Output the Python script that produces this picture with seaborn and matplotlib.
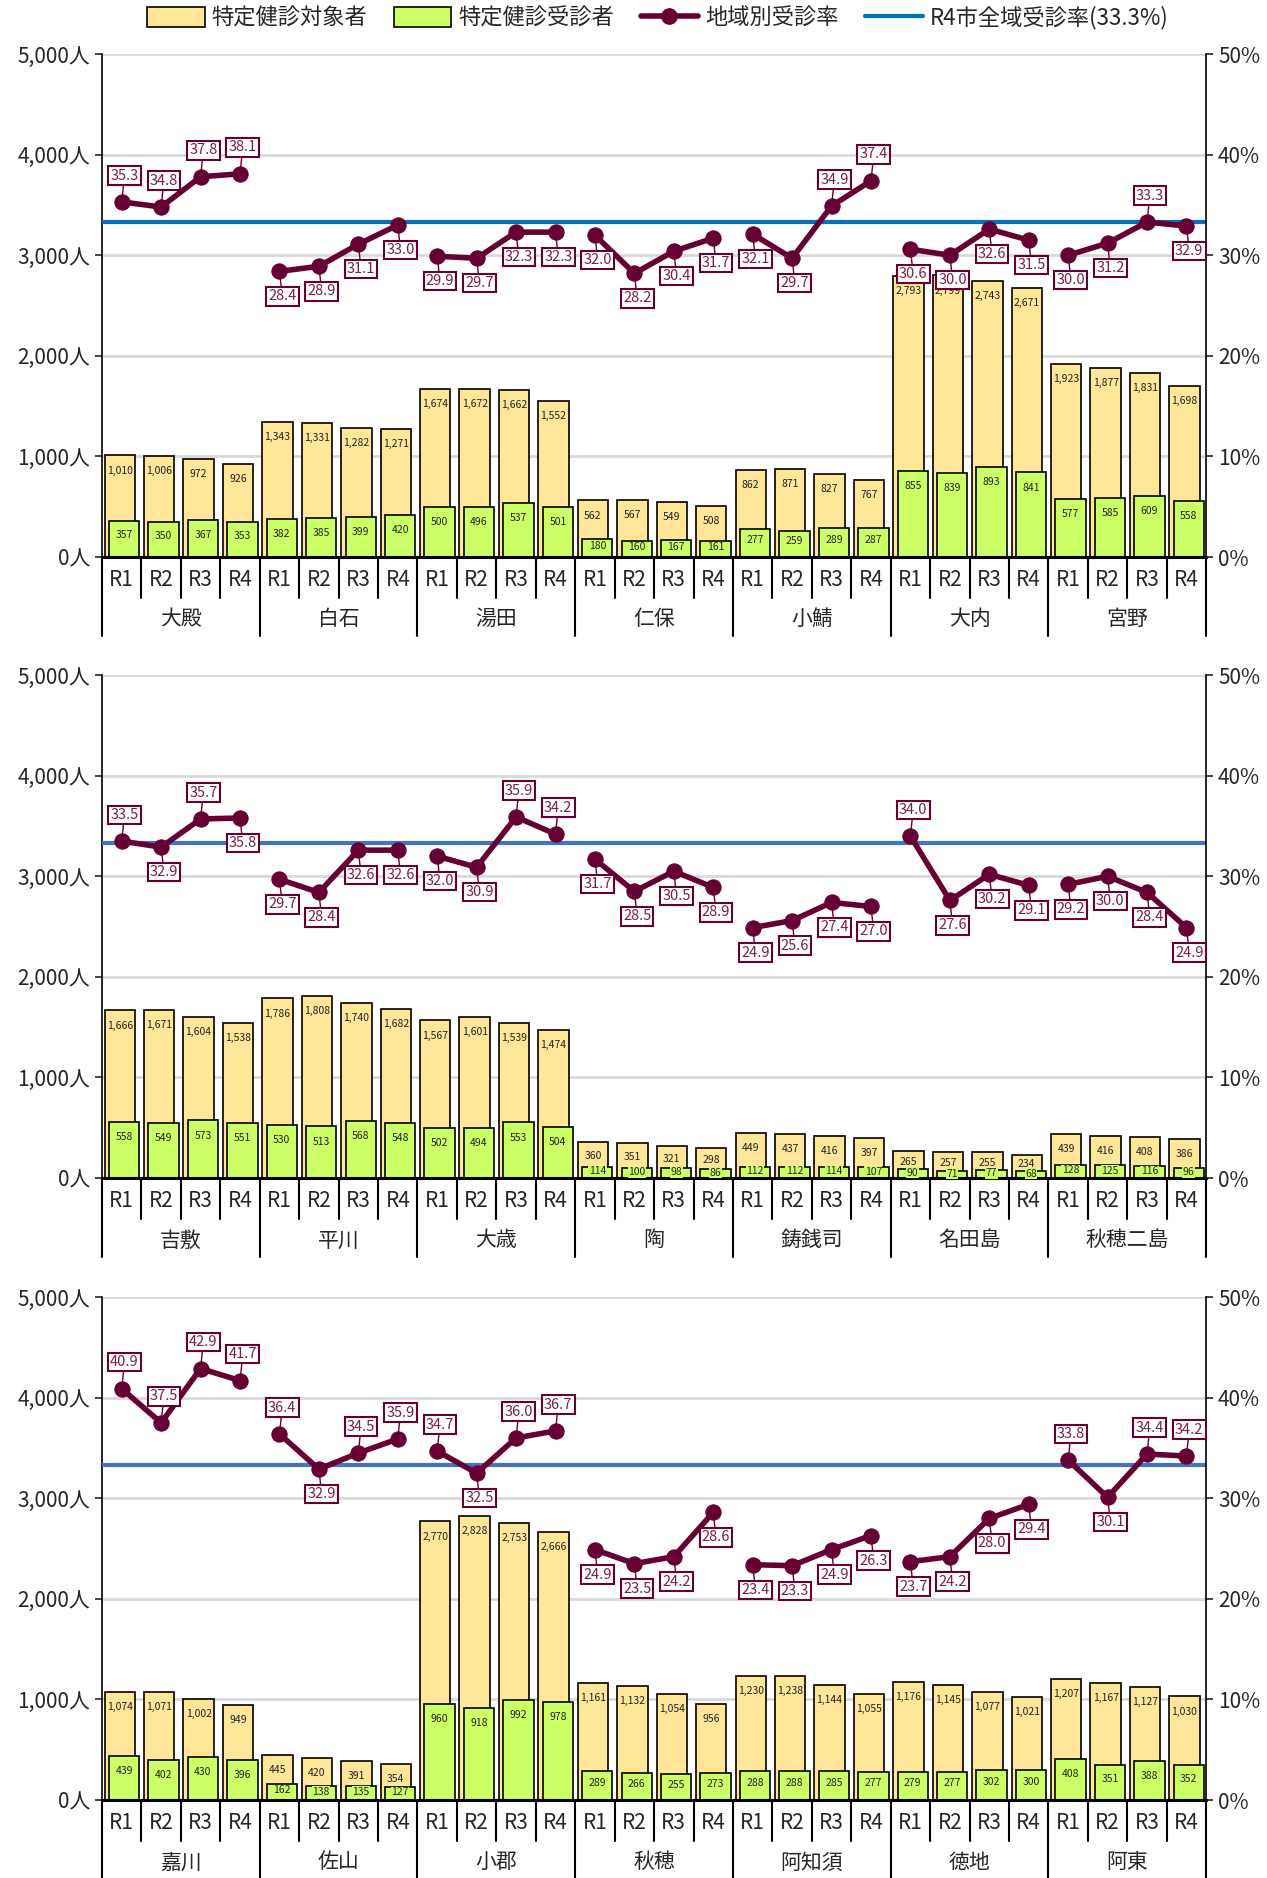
import numpy as np
import pandas as pd
import seaborn as sns
import matplotlib.pyplot as plt
from matplotlib.patches import Patch
from matplotlib.lines import Line2D
from matplotlib.ticker import FuncFormatter

# ---- data ----
years = ['R1', 'R2', 'R3', 'R4']

regions1 = ['大殿', '白石', '湯田', '仁保', '小鯖', '大内', '宮野']
target1 = [1010, 1006, 972, 926, 1343, 1331, 1282, 1271, 1674, 1672, 1662, 1552,
           562, 567, 549, 508, 862, 871, 827, 767, 2793, 2799, 2743, 2671,
           1923, 1877, 1831, 1698]
exam1 = [357, 350, 367, 353, 382, 385, 399, 420, 500, 496, 537, 501,
         180, 160, 167, 161, 277, 259, 289, 287, 855, 839, 893, 841,
         577, 585, 609, 558]
rate1 = [35.3, 34.8, 37.8, 38.1, 28.4, 28.9, 31.1, 33.0, 29.9, 29.7, 32.3, 32.3,
         32.0, 28.2, 30.4, 31.7, 32.1, 29.7, 34.9, 37.4, 30.6, 30.0, 32.6, 31.5,
         30.0, 31.2, 33.3, 32.9]

regions2 = ['吉敷', '平川', '大歳', '陶', '鋳銭司', '名田島', '秋穂二島']
target2 = [1666, 1671, 1604, 1538, 1786, 1808, 1740, 1682, 1567, 1601, 1539, 1474,
           360, 351, 321, 298, 449, 437, 416, 397, 265, 257, 255, 234,
           439, 416, 408, 386]
exam2 = [558, 549, 573, 551, 530, 513, 568, 548, 502, 494, 553, 504,
         114, 100, 98, 86, 112, 112, 114, 107, 90, 71, 77, 68,
         128, 125, 116, 96]
rate2 = [33.5, 32.9, 35.7, 35.8, 29.7, 28.4, 32.6, 32.6, 32.0, 30.9, 35.9, 34.2,
         31.7, 28.5, 30.5, 28.9, 24.9, 25.6, 27.4, 27.0, 34.0, 27.6, 30.2, 29.1,
         29.2, 30.0, 28.4, 24.9]

regions3 = ['嘉川', '佐山', '小郡', '秋穂', '阿知須', '徳地', '阿東']
target3 = [1074, 1071, 1002, 949, 445, 420, 391, 354, 2770, 2828, 2753, 2666,
           1161, 1132, 1054, 956, 1230, 1238, 1144, 1055, 1176, 1145, 1077, 1021,
           1207, 1167, 1127, 1030]
exam3 = [439, 402, 430, 396, 162, 138, 135, 127, 960, 918, 992, 978,
         289, 266, 255, 273, 288, 288, 285, 277, 279, 277, 302, 300,
         408, 351, 388, 352]
rate3 = [40.9, 37.5, 42.9, 41.7, 36.4, 32.9, 34.5, 35.9, 34.7, 32.5, 36.0, 36.7,
         24.9, 23.5, 24.2, 28.6, 23.4, 23.3, 24.9, 26.3, 23.7, 24.2, 28.0, 29.4,
         33.8, 30.1, 34.4, 34.2]

city_rate = 33.3

# label placement (u = above point, d = below)
place1 = 'uuuu' 'dddd' 'dddd' 'dddd' 'dduu' 'dddd' 'ddud'
place2 = 'udud' 'dddd' 'dduu' 'dddd' 'dddd' 'uddd' 'dddd'
place3 = 'uuuu' 'uduu' 'uduu' 'dddd' 'dddd' 'dddd' 'uduu'

YELLOW = '#FFE699'
GREEN = '#CCFF66'
MAROON = '#660033'
LABEL_TXT = '#7B1E4A'

sns.set_style('white')
plt.rcParams['font.family'] = ['Noto Sans CJK JP', 'DejaVu Sans']

fig = plt.figure(figsize=(12.67, 18.78), dpi=100)

panels = [
    (regions1, target1, exam1, rate1, place1, '#0070C0', 0.7034),
    (regions2, target2, exam2, rate2, place2, '#4472C4', 0.3727),
    (regions3, target3, exam3, rate3, place3, '#4472C4', 0.0415),
]
AX_H = 0.2678
AX_L, AX_W = 0.0805, 0.8715

for regions, target, exam, rate, place, blue, bottom in panels:
    n = len(target)
    df = pd.DataFrame({
        'pos': np.arange(n),
        'region': np.repeat(regions, 4),
        'year': years * len(regions),
        'target': target,
        'exam': exam,
        'rate': rate,
    })

    ax = fig.add_axes([AX_L, bottom, AX_W, AX_H])
    sns.barplot(x=df['pos'] - 0.05, y=df['target'], native_scale=True, width=0.77,
                color=YELLOW, saturation=1, edgecolor='black', linewidth=1.2, ax=ax)
    sns.barplot(x=df['pos'] + 0.06, y=df['exam'], native_scale=True, width=0.77,
                color=GREEN, saturation=1, edgecolor='black', linewidth=1.2, ax=ax)

    for i, (t, e) in enumerate(zip(target, exam)):
        yt = max(t - 150, t * 0.6)
        ax.text(i - 0.05, yt, f'{t:,}', ha='center', va='center', fontsize=7.5,
                color='#222222', bbox=dict(boxstyle='square,pad=0.05', fc=YELLOW, ec='none'))
        ye = max(e - 150, e * 0.6)
        ax.text(i + 0.06, ye, f'{e:,}', ha='center', va='center', fontsize=7.5,
                color='#222222', bbox=dict(boxstyle='square,pad=0.05', fc=GREEN, ec='none'))

    ax.set_xlim(-0.5, n - 0.5)
    ax.set_ylim(0, 5000)
    ax.set_yticks(range(0, 5001, 1000))
    ax.yaxis.set_major_formatter(FuncFormatter(lambda v, p: f'{int(v):,}人'))
    ax.grid(axis='y', color='#D9D9D9', lw=2)
    ax.grid(axis='x', visible=False)
    ax.set_axisbelow(True)
    ax.set_xlabel('')
    ax.set_ylabel('')
    ax.tick_params(axis='y', direction='out', length=5, width=1.2, labelsize=15, left=True)
    ax.tick_params(axis='x', bottom=False, labelbottom=False)
    for s in ['top', 'right']:
        ax.spines[s].set_visible(False)
    ax.spines['left'].set_color('black')
    ax.spines['left'].set_linewidth(1.2)
    ax.spines['bottom'].set_color('black')
    ax.spines['bottom'].set_linewidth(2.2)

    # two-level category axis
    tr = ax.get_xaxis_transform()
    for b in range(n + 1):
        depth = -0.157 if b % 4 == 0 else -0.082
        ax.plot([b - 0.5, b - 0.5], [0, depth], color='black', lw=1.5,
                transform=tr, clip_on=False)
    for i in range(n):
        ax.text(i, -0.046, years[i % 4], transform=tr, ha='center', va='center', fontsize=15)
    for k, r in enumerate(regions):
        ax.text(4 * k + 1.5, -0.124, r, transform=tr, ha='center', va='center', fontsize=15)

    # rate axis
    ax2 = ax.twinx()
    ax2.axhline(city_rate, color=blue, lw=3, zorder=1)
    sns.lineplot(data=df, x='pos', y='rate', units='region', estimator=None,
                 color=MAROON, lw=4, marker='o', markersize=11, markeredgecolor=MAROON,
                 legend=False, ax=ax2, zorder=3)
    for i, (v, p) in enumerate(zip(rate, place)):
        dy = 19 if p == 'u' else -18
        ax2.annotate(f'{v:.1f}', xy=(i, v), xytext=(2, dy), textcoords='offset points',
                     ha='center', va='center', fontsize=10.5, color=LABEL_TXT, zorder=5,
                     bbox=dict(boxstyle='square,pad=0.15', fc='white', ec=MAROON, lw=1.5),
                     arrowprops=dict(arrowstyle='-', color=MAROON, lw=1, shrinkA=0, shrinkB=4))
    ax2.set_ylim(0, 50)
    ax2.set_yticks(range(0, 51, 10))
    ax2.set_yticklabels([f'{v}%' for v in range(0, 51, 10)])
    ax2.set_xlim(-0.5, n - 0.5)
    ax2.set_ylabel('')
    ax2.set_xlabel('')
    ax2.grid(False)
    ax2.tick_params(axis='y', direction='out', length=5, width=1.2, labelsize=15, right=True)
    ax2.tick_params(axis='x', bottom=False, labelbottom=False)
    for s in ['top', 'left', 'bottom']:
        ax2.spines[s].set_visible(False)
    ax2.spines['right'].set_color('black')
    ax2.spines['right'].set_linewidth(1.2)

handles = [
    Patch(fc=YELLOW, ec='black', lw=1.2),
    Patch(fc=GREEN, ec='black', lw=1.2),
    Line2D([], [], color=MAROON, lw=4, marker='o', markersize=11),
    Line2D([], [], color='#0070C0', lw=3),
]
labels = ['特定健診対象者', '特定健診受診者', '地域別受診率', f'R4市全域受診率({city_rate}%)']
fig.legend(handles, labels, loc='center', bbox_to_anchor=(0.519, 0.9905), ncol=4,
           frameon=False, fontsize=16, handlelength=2.6, handleheight=1.0,
           columnspacing=1.2, handletextpad=0.3)

fig.savefig('out.png', dpi=100)
